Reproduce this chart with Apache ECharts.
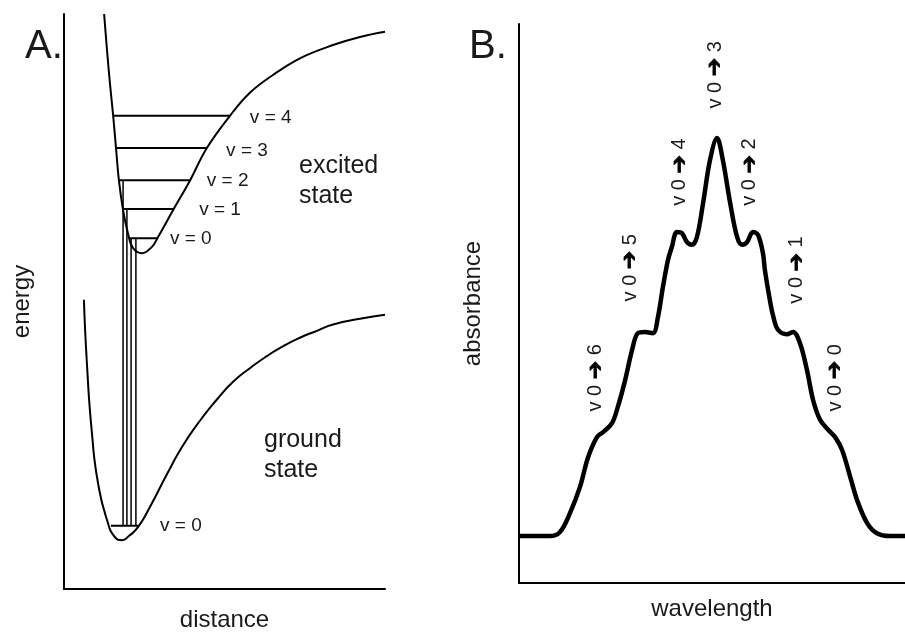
<!DOCTYPE html>
<html>
<head>
<meta charset="utf-8">
<title>Vibronic transitions</title>
<script src="https://cdn.jsdelivr.net/npm/echarts@6/dist/echarts.min.js"></script>
<style>
  html, body { margin: 0; padding: 0; background: #fff; }
  #chart { width: 905px; height: 633px; }
</style>
</head>
<body>
<div id="chart"></div>
<script>
// panel A: potential energy curves (distance 0-10, energy 0-10)
const excitedX = [1.25, 1.34, 1.43, 1.53, 1.62, 1.71, 1.84, 1.99, 2.15, 2.43, 2.74, 2.93, 3.40, 3.93, 4.45, 5.17, 5.79, 6.51, 7.35, 8.38, 9.22, 10.0]
const excitedE = [10.0, 9.37, 8.80, 8.24, 7.67, 7.11, 6.59, 6.19, 5.93, 5.84, 5.95, 6.12, 6.59, 7.11, 7.67, 8.23, 8.63, 8.94, 9.23, 9.46, 9.60, 9.69]
const groundX = [0.62, 0.72, 0.87, 1.06, 1.34, 1.59, 1.81, 2.02, 2.31, 2.68, 3.21, 3.71, 4.24, 4.77, 5.26, 5.79, 6.32, 6.82, 7.35, 7.88, 8.38, 9.22, 10.0]
const groundE = [5.03, 3.86, 2.71, 1.84, 1.20, 0.90, 0.85, 0.92, 1.08, 1.43, 2.00, 2.50, 2.93, 3.30, 3.60, 3.84, 4.05, 4.22, 4.37, 4.49, 4.60, 4.70, 4.77]

// vibrational levels v = 0..4 of the excited state
const levelE = [6.10, 6.61, 7.11, 7.67, 8.23]
const levelLeft = [2.02, 1.87, 1.71, 1.62, 1.53]
const levelRight = [2.90, 3.40, 3.93, 4.45, 5.17]
const levelNames = ['v = 0', 'v = 1', 'v = 2', 'v = 3', 'v = 4']
const levelLabelX = [3.30, 4.21, 4.45, 5.05, 5.79]
const levelLabelE = [6.09, 6.59, 7.10, 7.62, 8.19]

// ground state v = 0
const groundLevelE = 1.10
const groundLevelLeft = 1.46
const groundLevelRight = 2.31
const groundLabelX = 2.99

// vertical transitions from ground v=0
const transX = [1.84, 1.96, 2.09, 2.24]
const transTop = [7.11, 6.61, 6.10, 6.10]

// panel B: absorbance spectrum (wavelength 0-10, absorbance 0-10)
const waveX = [0, 0.80, 1.06, 1.32, 1.58, 1.79, 2.02, 2.18, 2.41, 2.56, 2.75, 2.93, 3.08, 3.26, 3.47, 3.60, 3.73, 3.86, 3.96, 4.09, 4.22, 4.35, 4.48, 4.61, 4.77, 4.95, 5.13, 5.28, 5.47, 5.65, 5.78, 5.91, 6.06, 6.19, 6.32, 6.37, 6.50, 6.58, 6.71, 6.94, 7.10, 7.28, 7.46, 7.62, 7.80, 8.01, 8.19, 8.37, 8.58, 8.76, 9.02, 9.27, 9.61, 10]
const absorb = [0.84, 0.84, 0.91, 1.25, 1.72, 2.25, 2.61, 2.70, 2.86, 3.15, 3.63, 4.17, 4.47, 4.49, 4.47, 4.76, 5.30, 5.78, 6.01, 6.28, 6.26, 6.10, 6.05, 6.19, 6.80, 7.57, 7.96, 7.57, 6.80, 6.19, 6.05, 6.10, 6.28, 6.23, 5.90, 5.60, 5.06, 4.79, 4.53, 4.45, 4.49, 4.29, 3.81, 3.27, 2.92, 2.74, 2.61, 2.38, 1.90, 1.48, 1.07, 0.89, 0.84, 0.84]

const bandNums = ['0', '1', '2', '3', '4', '5', '6']
const bandX = [8.19, 7.20, 5.98, 5.08, 4.17, 2.88, 1.99]
const bandY = [3.67, 5.60, 7.35, 9.09, 7.35, 5.64, 3.67]

const FONT = "'Liberation Sans', Arial, sans-serif"
const INK = '#000'
const TEXT = '#1a1a1a'

function zip(xs, ys) {
  return xs.map((x, i) => [x, ys[i]])
}

function axis(name, gap) {
  return {
    type: 'value',
    min: 0,
    max: 10,
    name: name,
    nameLocation: 'middle',
    nameGap: gap,
    nameTextStyle: { fontFamily: FONT, fontSize: 24, color: TEXT },
    axisLine: { show: true, onZero: false, lineStyle: { color: INK, width: 2 } },
    axisTick: { show: false },
    axisLabel: { show: false },
    splitLine: { show: false }
  }
}

const series = []

series.push({
  type: 'line', xAxisIndex: 0, yAxisIndex: 0,
  data: zip(excitedX, excitedE), smooth: 0.4, showSymbol: false,
  lineStyle: { color: INK, width: 2 }
})
series.push({
  type: 'line', xAxisIndex: 0, yAxisIndex: 0,
  data: zip(groundX, groundE), smooth: 0.55, showSymbol: false,
  lineStyle: { color: INK, width: 2 }
})

levelE.forEach((e, i) => {
  series.push({
    type: 'line', xAxisIndex: 0, yAxisIndex: 0,
    data: [[levelLeft[i], e], [levelRight[i], e]], showSymbol: false,
    lineStyle: { color: INK, width: 2 }
  })
})
series.push({
  type: 'line', xAxisIndex: 0, yAxisIndex: 0,
  data: [[groundLevelLeft, groundLevelE], [groundLevelRight, groundLevelE]], showSymbol: false,
  lineStyle: { color: INK, width: 2 }
})

transX.forEach((x, i) => {
  series.push({
    type: 'line', xAxisIndex: 0, yAxisIndex: 0,
    data: [[x, groundLevelE], [x, transTop[i]]], showSymbol: false,
    lineStyle: { color: INK, width: 1.5 }
  })
})

const textLabel = (size) => ({
  show: true, position: 'right', distance: 0, opacity: 1,
  formatter: p => p.data.name,
  fontFamily: FONT, fontSize: size, color: TEXT, lineHeight: Math.round(size * 1.2)
})

series.push({
  type: 'scatter', xAxisIndex: 0, yAxisIndex: 0, symbolSize: 0,
  itemStyle: { opacity: 1 },
  data: levelNames.map((n, i) => ({ name: n, value: [levelLabelX[i], levelLabelE[i]] }))
    .concat([{ name: 'v = 0', value: [groundLabelX, groundLevelE] }]),
  label: textLabel(19)
})
series.push({
  type: 'scatter', xAxisIndex: 0, yAxisIndex: 0, symbolSize: 0,
  itemStyle: { opacity: 1 },
  data: [
    { name: 'excited\nstate', value: [7.32, 7.10] },
    { name: 'ground\nstate', value: [6.23, 2.33] }
  ],
  label: textLabel(25)
})

series.push({
  type: 'line', xAxisIndex: 1, yAxisIndex: 1,
  data: zip(waveX, absorb), smooth: 0.35, showSymbol: false,
  lineStyle: { color: INK, width: 4.5 }
})
series.push({
  type: 'scatter', xAxisIndex: 1, yAxisIndex: 1, symbolSize: 0,
  itemStyle: { opacity: 1 },
  data: bandNums.map((n, i) => ({ name: n, value: [bandX[i], bandY[i]] })),
  label: {
    show: true, position: 'inside', rotate: 90, opacity: 1,
    formatter: p => 'v 0 {a|➔} ' + p.data.name,
    fontFamily: FONT, fontSize: 20, color: TEXT,
    textBorderWidth: 0,
    rich: {
      a: {
        fontSize: 22, fontWeight: 'bold', color: INK,
        textBorderColor: INK, textBorderWidth: 0.8,
        fontFamily: "'DejaVu Sans', sans-serif"
      }
    }
  }
})

const chart = echarts.init(document.getElementById('chart'))
chart.setOption({
  animation: false,
  backgroundColor: '#fff',
  title: [
    { text: 'A.', left: 20, top: 22, textStyle: { fontFamily: FONT, fontSize: 40, fontWeight: 'normal', color: TEXT } },
    { text: 'B.', left: 464, top: 22, textStyle: { fontFamily: FONT, fontSize: 40, fontWeight: 'normal', color: TEXT } }
  ],
  grid: [
    { left: 64, top: 14, width: 321, height: 575, outerBoundsMode: 'none' },
    { left: 519, top: 24, width: 386, height: 559, outerBoundsMode: 'none' }
  ],
  xAxis: [
    Object.assign(axis('distance', 19), { gridIndex: 0 }),
    Object.assign(axis('wavelength', 14), { gridIndex: 1 })
  ],
  yAxis: [
    Object.assign(axis('energy', 30), { gridIndex: 0 }),
    Object.assign(axis('absorbance', 34), { gridIndex: 1 })
  ],
  series: series
})
</script>
</body>
</html>
